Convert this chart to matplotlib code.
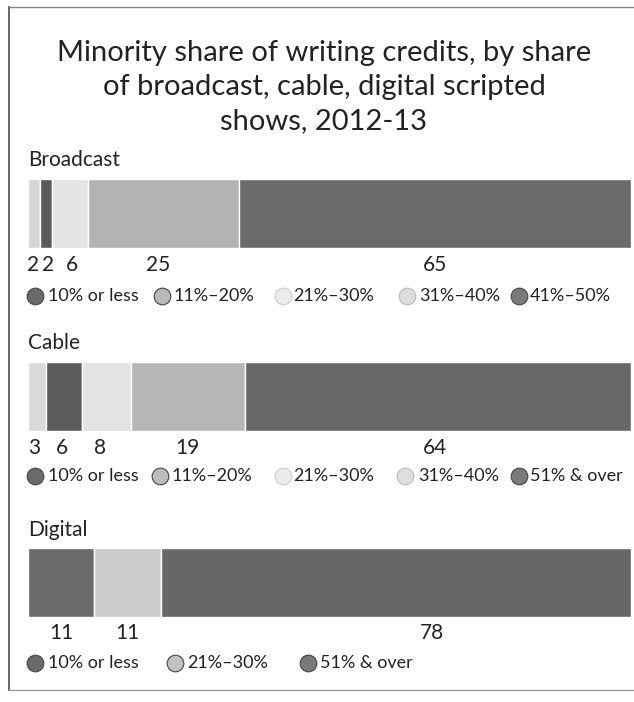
import numpy as np
import matplotlib.pyplot as plt
from matplotlib.transforms import blended_transform_factory

plt.rcParams['font.family'] = ['Lato', 'DejaVu Sans']

# data
title = 'Minority share of writing credits, by share\nof broadcast, cable, digital scripted\nshows, 2012-13'
groups = ['Broadcast', 'Cable', 'Digital']
broadcast_values = [2, 2, 6, 25, 65]
cable_values = [3, 6, 8, 19, 64]
digital_values = [11, 11, 78]
broadcast_legend = ['10% or less', '11%–20%', '21%–30%', '31%–40%', '41%–50%']
cable_legend = ['10% or less', '11%–20%', '21%–30%', '31%–40%', '51% & over']
digital_legend = ['10% or less', '21%–30%', '51% & over']

# styles
broadcast_colors = ['#d6d6d6', '#595959', '#e4e4e4', '#b3b3b3', '#6b6b6b']
cable_colors = ['#d9d9d9', '#5c5c5c', '#e3e3e3', '#b6b6b6', '#686868']
digital_colors = ['#6b6b6b', '#cdcdcd', '#676767']
broadcast_icons = ['#6a6a6a', '#b8b8b8', '#ebebeb', '#dedede', '#7a7a7a']
cable_icons = ['#6a6a6a', '#bdbdbd', '#ebebeb', '#dedede', '#7a7a7a']
digital_icons = ['#6a6a6a', '#c2c2c2', '#7a7a7a']
icon_edges = {'#ebebeb': '#cccccc', '#dedede': '#bbbbbb'}
text_col = '#222222'

W, H = 634, 702
fig = plt.figure(figsize=(W / 100, H / 100), dpi=100)
over = fig.add_axes([0, 0, 1, 1], zorder=3)
over.set_xlim(0, W)
over.set_ylim(H, 0)
over.axis('off')

# frame
over.plot([9, 9], [7, 690], color='#666666', lw=1.4)
over.plot([9, W], [7, 7], color='#888888', lw=1.0)
over.plot([9, W], [690, 690], color='#999999', lw=1.0)

over.text(324, 87, title, ha='center', va='center', fontsize=21,
          color=text_col, linespacing=1.37)

sections = [
    dict(name=groups[0], vals=broadcast_values, cols=broadcast_colors,
         leg=broadcast_legend, icons=broadcast_icons,
         name_y=160, bar=(179, 248), lab_y=265, leg_y=296,
         nudge=[-0.2, 0.3, 0.3, -1, 0],
         mx=[35, 162, 283, 407, 519], tx=[48, 174, 293, 419, 530]),
    dict(name=groups[1], vals=cable_values, cols=cable_colors,
         leg=cable_legend, icons=cable_icons,
         name_y=343, bar=(362, 431), lab_y=448, leg_y=476,
         nudge=[-0.5, -0.3, -1, 0, -0.5],
         mx=[35, 160, 283, 405, 519], tx=[48, 172, 293, 418, 530]),
    dict(name=groups[2], vals=digital_values, cols=digital_colors,
         leg=digital_legend, icons=digital_icons,
         name_y=530, bar=(548, 617), lab_y=633, leg_y=663,
         nudge=[0, 0, 6],
         mx=[35, 175, 308], tx=[48, 187, 320]),
]

x0, x1 = 28, 631
for s in sections:
    top, bot = s['bar']
    ax = fig.add_axes([x0 / W, 1 - bot / H, (x1 - x0) / W, (bot - top) / H])
    vals = np.array(s['vals'])
    lefts = np.concatenate([[0], np.cumsum(vals)[:-1]])
    ax.barh(0, vals, left=lefts, height=1, color=s['cols'],
            edgecolor='white', linewidth=1)
    ax.set_xlim(0, vals.sum())
    ax.set_ylim(-0.5, 0.5)
    ax.axis('off')

    tr = blended_transform_factory(ax.transData, over.transData)
    for v, l, n in zip(vals, lefts, s['nudge']):
        over.text(l + v / 2 + n, s['lab_y'], str(v), transform=tr,
                  ha='center', va='center', fontsize=15, color=text_col)

    over.text(x0, s['name_y'], s['name'], ha='left', va='center',
              fontsize=15, color=text_col)

    for m, t, lab, c in zip(s['mx'], s['tx'], s['leg'], s['icons']):
        over.plot(m, s['leg_y'], 'o', ms=12, mfc=c,
                  mec=icon_edges.get(c, '#444444'), mew=0.8)
        over.text(t, s['leg_y'], lab, ha='left', va='center',
                  fontsize=13, color=text_col)

fig.savefig('out.png', dpi=100, facecolor='white')
